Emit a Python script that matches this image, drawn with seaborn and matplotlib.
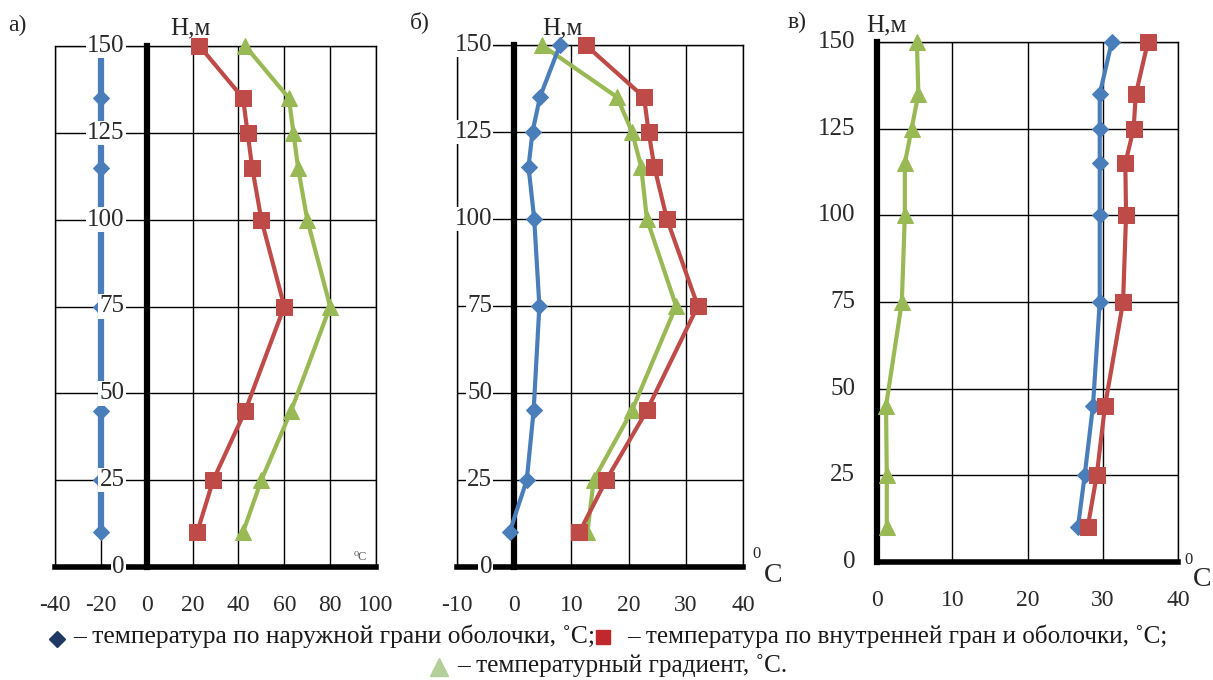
import matplotlib
matplotlib.use("Agg")
import matplotlib.pyplot as plt
import seaborn as sns
import pandas as pd
from matplotlib.transforms import offset_copy
from matplotlib.lines import Line2D

# Measurement levels along the shell, m
heights = [150, 135, 125, 115, 100, 75, 45, 25, 10]

# а) temperatures, °C
a_outer = [-20, -20, -20, -20, -20, -20, -20, -20, -20]
a_inner = [23, 42, 44, 46, 50, 60, 43, 29, 22]
a_grad = [43, 62, 64, 66, 70, 80, 63, 50, 42]

# б) temperatures, °C
b_outer = [8.0, 4.5, 3.2, 2.5, 3.5, 4.4, 3.4, 2.2, -0.8]
b_inner = [12.5, 22.7, 23.5, 24.5, 26.7, 32.1, 23.2, 16.1, 11.4]
b_grad = [4.8, 18.0, 20.6, 22.2, 23.2, 28.3, 20.6, 13.9, 12.8]

# в) temperatures, °C
c_outer = [31.2, 29.6, 29.6, 29.6, 29.6, 29.6, 28.7, 27.6, 26.7]
c_inner = [36.0, 34.4, 34.1, 33.0, 33.1, 32.7, 30.3, 29.2, 28.0]
c_grad = [5.3, 5.5, 4.6, 3.7, 3.7, 3.3, 1.2, 1.3, 1.3]

y_ticks = [0, 25, 50, 75, 100, 125, 150]
a_xticks = [-40, -20, 0, 20, 40, 60, 80, 100]
b_xticks = [-10, 0, 10, 20, 30, 40]
c_xticks = [0, 10, 20, 30, 40]

panel_names = ["а)", "б)", "в)"]
legend_outer = "– температура по наружной грани оболочки, ˚С;"
legend_inner = "– температура по внутренней гран и оболочки, ˚С;"
legend_grad = "– температурный градиент, ˚С."

sns.set_style("white")
SERIF = ["Liberation Serif", "DejaVu Serif"]
plt.rcParams["font.family"] = SERIF
plt.rcParams["axes.unicode_minus"] = False

W, H = 1213, 680
fig = plt.figure(figsize=(W / 100, H / 100), dpi=100)
fig.patch.set_facecolor("white")


def fx(px):
    return px / W


def fy(py):
    return 1 - py / H


BLUE = "#4a7ebb"
RED = "#be4b48"
GREEN = "#98b954"

panels = [
    dict(rect=[55, 46, 376, 567], xt=a_xticks, outer=a_outer, inner=a_inner, grad=a_grad,
         blue_lw=4.5, name_xy=(8, 25), hm_xy=(170, 28)),
    dict(rect=[457, 45, 743, 567], xt=b_xticks, outer=b_outer, inner=b_inner, grad=b_grad,
         blue_lw=3.0, name_xy=(410, 22), hm_xy=(542, 28)),
    dict(rect=[877, 42, 1178, 562], xt=c_xticks, outer=c_outer, inner=c_inner, grad=c_grad,
         blue_lw=3.0, name_xy=(788, 22), hm_xy=(866, 25)),
]

axes = []
for i, p in enumerate(panels):
    x0, y0, x1, y1 = p["rect"]
    ax = fig.add_axes([fx(x0), fy(y1), (x1 - x0) / W, (y1 - y0) / H])
    axes.append(ax)
    xt = p["xt"]

    df = pd.DataFrame({"H": heights, "outer": p["outer"], "inner": p["inner"], "grad": p["grad"]})

    sns.lineplot(data=df, x="grad", y="H", sort=False, estimator=None, orient="y", ax=ax,
                 color=GREEN, lw=3.0, marker="^", markersize=11, markeredgecolor=GREEN,
                 zorder=3, clip_on=False)
    sns.lineplot(data=df, x="outer", y="H", sort=False, estimator=None, orient="y", ax=ax,
                 color=BLUE, lw=p["blue_lw"], marker="D", markersize=8, markeredgecolor=BLUE,
                 zorder=3, clip_on=False)
    sns.lineplot(data=df, x="inner", y="H", sort=False, estimator=None, orient="y", ax=ax,
                 color=RED, lw=3.0, marker="s", markersize=11, markeredgecolor=RED,
                 zorder=4, clip_on=False)

    ax.set_xlim(xt[0], xt[-1])
    ax.set_ylim(0, 150)
    ax.set_xticks(xt)
    ax.set_yticks(y_ticks)
    ax.set_xlabel("")
    ax.set_ylabel("")
    ax.set_axisbelow(True)
    ax.grid(True, color="black", lw=1.0)

    for s in ("top", "right"):
        ax.spines[s].set_visible(True)
        ax.spines[s].set_color("black")
        ax.spines[s].set_linewidth(1.0)
    ax.spines["left"].set_position(("data", 0))
    ax.spines["left"].set_color("black")
    ax.spines["left"].set_linewidth(4.5)
    ax.spines["left"].set_zorder(2.6)
    ax.spines["bottom"].set_color("black")
    ax.spines["bottom"].set_linewidth(4.0)
    ax.spines["bottom"].set_zorder(2.6)
    if xt[0] < 0:
        ax.axvline(xt[0], color="black", lw=1.0, clip_on=False, zorder=1)

    ax.tick_params(axis="x", direction="out", length=3, width=5, color="black",
                   pad=17, labelsize=17, labelcolor="#2a2a2a")
    ax.tick_params(axis="y", direction="out", length=3, width=4, color="black",
                   labelleft=False)

    # height labels sit just left of the vertical axis, on a white ground
    lab_tr = offset_copy(ax.transData, fig=fig, x=-22, y=0, units="dots")
    for v in y_ticks:
        ax.text(0, v, str(v), transform=lab_tr, ha="right", va="center", fontsize=18,
                color="#2a2a2a", zorder=6, clip_on=False,
                bbox=dict(boxstyle="square,pad=0.05", facecolor="white", edgecolor="none"))

    nx, ny = p["name_xy"]
    fig.text(fx(nx), fy(ny), panel_names[i], fontsize=17, ha="left", va="center")
    hx, hy = p["hm_xy"]
    fig.text(fx(hx), fy(hy), "H,м", fontsize=18, ha="left", va="center")

# temperature unit marks at the end of the horizontal axes
fig.text(fx(354), fy(557), "⁰C", fontsize=9, color="#555555", ha="left", va="center")
fig.text(fx(752), fy(554), "0", fontsize=12, ha="left", va="center")
fig.text(fx(764), fy(575), "C", fontsize=20, ha="left", va="center")
fig.text(fx(1184), fy(560), "0", fontsize=12, ha="left", va="center")
fig.text(fx(1193), fy(580), "C", fontsize=20, ha="left", va="center")

# legend below the panels
fig.canvas.draw()
renderer = fig.canvas.get_renderer()


def fitted_text(x_left, x_right, y, s):
    t = fig.text(fx(x_left), fy(y), s, fontsize=16, ha="left", va="center", color="#1a1a1a")
    w = t.get_window_extent(renderer).width
    t.set_fontsize(16 * (x_right - x_left) / w)
    return t


fig.add_artist(Line2D([fx(57)], [fy(639)], transform=fig.transFigure, marker="D",
                      markersize=8, color="#1f3864", linestyle="none"))
fitted_text(73, 595, 636, legend_outer)
fig.add_artist(Line2D([fx(603)], [fy(637)], transform=fig.transFigure, marker="s",
                      markersize=10, color="#c0282d", linestyle="none"))
fitted_text(627, 1167, 636, legend_inner)
fig.add_artist(Line2D([fx(439)], [fy(667)], transform=fig.transFigure, marker="^",
                      markersize=13, color="#b5cf9a", linestyle="none"))
fitted_text(457, 788, 666, legend_grad)

fig.savefig("out.png", dpi=100, facecolor="white")
